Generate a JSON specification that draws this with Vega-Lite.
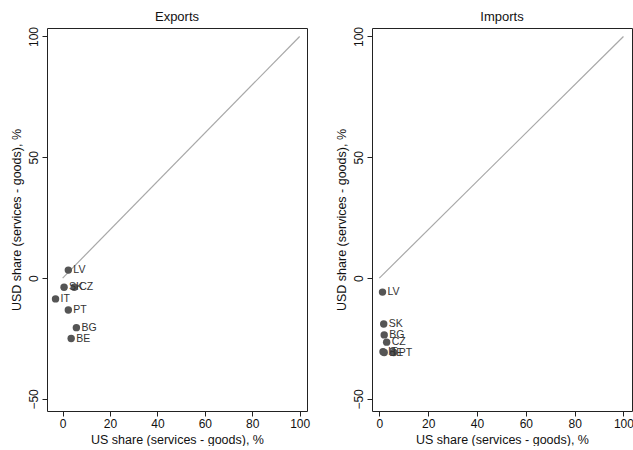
{
  "$schema": "https://vega.github.io/schema/vega-lite/v6.json",
  "padding": {"left": 9, "top": 10, "right": 0, "bottom": 0},
  "background": "white",
  "config": {
    "font": "Liberation Sans",
    "view": {"stroke": "#222", "strokeWidth": 1},
    "axis": {"grid": false, "domain": false, "tickColor": "#222", "tickSize": 5, "labelFont": "Liberation Sans", "labelFontSize": 12, "labelColor": "#111", "labelPadding": 2, "titleFont": "Liberation Sans", "titleFontSize": 12.5, "titleFontWeight": "normal", "titleColor": "#111", "titlePadding": 4},
    "title": {"font": "Liberation Sans", "fontSize": 13, "fontWeight": "normal", "color": "#111", "offset": 2},
    "concat": {"spacing": 23}
  },
  "datasets": {
    "exports": [
      {"country": "LV", "x": 2.4, "y": 3.3},
      {"country": "SK", "x": 0.6, "y": -3.8},
      {"country": "CZ", "x": 4.9, "y": -3.8},
      {"country": "IT", "x": -3.0, "y": -8.6},
      {"country": "PT", "x": 2.4, "y": -13.2},
      {"country": "BG", "x": 5.8, "y": -20.5},
      {"country": "BE", "x": 3.6, "y": -25.0}
    ],
    "imports": [
      {"country": "LV", "x": 1.3, "y": -5.8},
      {"country": "SK", "x": 1.8, "y": -19.0},
      {"country": "BG", "x": 2.0, "y": -23.5},
      {"country": "CZ", "x": 3.0, "y": -26.5},
      {"country": "IT", "x": 1.5, "y": -30.5},
      {"country": "BE", "x": 2.0, "y": -30.8},
      {"country": "PT", "x": 5.9, "y": -30.8}
    ],
    "diag": [{"x": 0, "y": 0, "x2": 100, "y2": 100}]
  },
  "hconcat": [
    {
      "title": "Exports",
      "width": 260,
      "height": 383,
      "encoding": {
        "x": {"field": "x", "type": "quantitative", "scale": {"domain": [-6.6, 103.1], "nice": false, "zero": false}, "axis": {"values": [0, 20, 40, 60, 80, 100], "labelAngle": 0, "title": "US share (services - goods), %"}},
        "y": {"field": "y", "type": "quantitative", "scale": {"domain": [-55, 103.5], "nice": false, "zero": false}, "axis": {"values": [-50, 0, 50, 100], "labelAngle": -90, "title": "USD share (services - goods), %"}}
      },
      "layer": [
        {"data": {"name": "diag"}, "mark": {"type": "rule", "color": "#a8a8a8", "strokeWidth": 1.2}, "encoding": {"x2": {"field": "x2"}, "y2": {"field": "y2"}}},
        {"data": {"name": "exports"}, "mark": {"type": "circle", "size": 55, "color": "#555555", "opacity": 1}},
        {"data": {"name": "exports"}, "mark": {"type": "text", "align": "left", "baseline": "middle", "dx": 5, "fontSize": 10.5, "color": "#333333"}, "encoding": {"text": {"field": "country"}}}
      ]
    },
    {
      "title": "Imports",
      "width": 260,
      "height": 383,
      "encoding": {
        "x": {"field": "x", "type": "quantitative", "scale": {"domain": [-3, 103.5], "nice": false, "zero": false}, "axis": {"values": [0, 20, 40, 60, 80, 100], "labelAngle": 0, "title": "US share (services - goods), %"}},
        "y": {"field": "y", "type": "quantitative", "scale": {"domain": [-55, 103.5], "nice": false, "zero": false}, "axis": {"values": [-50, 0, 50, 100], "labelAngle": -90, "title": "USD share (services - goods), %"}}
      },
      "layer": [
        {"data": {"name": "diag"}, "mark": {"type": "rule", "color": "#a8a8a8", "strokeWidth": 1.2}, "encoding": {"x2": {"field": "x2"}, "y2": {"field": "y2"}}},
        {"data": {"name": "imports"}, "mark": {"type": "circle", "size": 55, "color": "#555555", "opacity": 1}},
        {"data": {"name": "imports"}, "mark": {"type": "text", "align": "left", "baseline": "middle", "dx": 5, "fontSize": 10.5, "color": "#333333"}, "encoding": {"text": {"field": "country"}}}
      ]
    }
  ]
}
